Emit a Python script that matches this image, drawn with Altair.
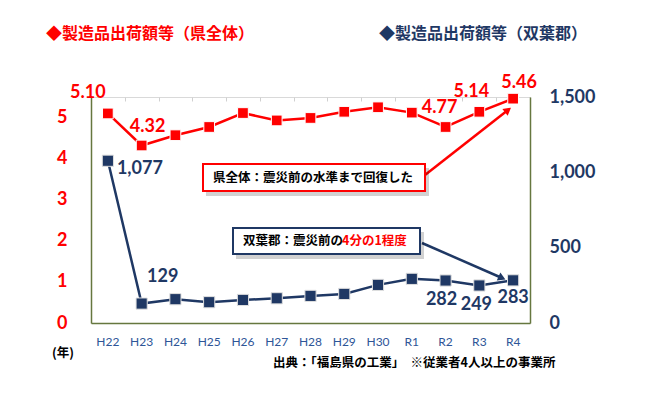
import altair as alt
import pandas as pd

# ---- data ----
years = ["H22", "H23", "H24", "H25", "H26", "H27", "H28", "H29", "H30", "R1", "R2", "R3", "R4"]
pref_values = [5.10, 4.32, 4.57, 4.77, 5.11, 4.93, 4.99, 5.14, 5.25, 5.12, 4.77, 5.14, 5.46]
futaba_values = [1077, 129, 158, 138, 153, 164, 180, 193, 253, 293, 282, 249, 283]
pref_labelled = ["H22", "H23", "R2", "R3", "R4"]
futaba_labelled = ["H22", "H23", "R2", "R3", "R4"]

title_pref = "◆製造品出荷額等（県全体）"
title_futaba = "◆製造品出荷額等（双葉郡）"
note_pref = "県全体：震災前の水準まで回復した"
note_futaba_a = "双葉郡：震災前の"
note_futaba_b = "4分の1程度"
year_unit = "(年)"
source_text = "出典：「福島県の工業」　※従業者4人以上の事業所"

# ---- styles ----
RED = "#ff0000"
NAVY = "#1f3864"
OLIVE = "#66773f"
XBLUE = "#2e5597"
NUMFONT = "Lato"
JPFONT = "Noto Sans CJK JP"

pref_offsets = {"H22": (-20, -20), "H23": (6, -18), "R2": (-6, -19), "R3": (-8, -20), "R4": (6, -16)}
futaba_offsets = {"H22": (32, 8), "H23": (21, -27), "R2": (-4, 19), "R3": (-3, 20), "R4": (0, 18)}

df = pd.DataFrame({"year": years, "pref": pref_values, "futaba": futaba_values})
one = pd.DataFrame({"k": [0]})

xscale = alt.Scale(type="band", paddingInner=0, paddingOuter=0)
x_bottom = alt.X("year:N", sort=years, scale=xscale,
                 axis=alt.Axis(title=None, orient="bottom", ticks=False, labelAngle=0,
                               labelColor=XBLUE, labelFont=NUMFONT, labelFontSize=12,
                               labelPadding=13, domainColor=OLIVE, domainWidth=1.5))
x_top = alt.X("year:N", sort=years, scale=xscale,
              axis=alt.Axis(title=None, orient="top", labels=False, domain=False,
                            ticks=True, tickBand="extent", tickSize=4, offset=-4,
                            tickColor="#d0d0d0"))

y_left = alt.Y("pref:Q", scale=alt.Scale(domain=[0, 5.5], nice=False, zero=True),
               axis=alt.Axis(title=None, orient="left", values=[0, 1, 2, 3, 4, 5], format="d",
                             ticks=False, grid=False, labelColor=RED, labelFont=NUMFONT,
                             labelFontSize=18, labelFontWeight="bold", labelPadding=24,
                             domainColor=OLIVE, domainWidth=1.5))
y_right = alt.Y("futaba:Q", scale=alt.Scale(domain=[0, 1500], nice=False, zero=True),
                axis=alt.Axis(title=None, orient="right", values=[0, 500, 1000, 1500], format=",.0f",
                              ticks=False, grid=False, labelColor=NAVY, labelFont=NUMFONT,
                              labelFontSize=18, labelFontWeight="bold", labelPadding=19,
                              domainColor=OLIVE, domainWidth=1.5))

base_l = alt.Chart(df)
pref_line = base_l.mark_line(color=RED, strokeWidth=2.5).encode(x=x_bottom, y=y_left)
pref_pts = base_l.mark_point(shape="square", filled=True, size=115, color=RED,
                             stroke="#ffffff", strokeWidth=1, opacity=1).encode(x=x_bottom, y=y_left)
pref_texts = []
for yr in pref_labelled:
    dx, dy = pref_offsets[yr]
    pref_texts.append(
        base_l.transform_filter(alt.datum.year == yr)
        .mark_text(dx=dx, dy=dy, color=RED, font=NUMFONT, fontSize=18, fontWeight="bold",
                   align="center", baseline="middle")
        .encode(x=x_bottom, y=y_left, text=alt.Text("pref:Q", format=".2f"))
    )
left_layer = alt.layer(pref_line, pref_pts, *pref_texts)

fut_line = base_l.mark_line(color=NAVY, strokeWidth=2.5).encode(x=x_top, y=y_right)
fut_pts = base_l.mark_point(shape="square", filled=True, size=125, color=NAVY,
                            stroke="#e0e0e0", strokeWidth=1, opacity=1).encode(x=x_top, y=y_right)
fut_texts = []
for yr in futaba_labelled:
    dx, dy = futaba_offsets[yr]
    fut_texts.append(
        base_l.transform_filter(alt.datum.year == yr)
        .mark_text(dx=dx, dy=dy, color=NAVY, font=NUMFONT, fontSize=18, fontWeight="bold",
                   align="center", baseline="middle")
        .encode(x=x_top, y=y_right, text=alt.Text("futaba:Q", format=",.0f"))
    )
right_layer = alt.layer(fut_line, fut_pts, *fut_texts)

# ---- annotations (pixel positions relative to plot area) ----
ann = alt.Chart(one)
def box(x1, x2, y1, y2, color):
    shadow = ann.mark_rect(fill="#000000", opacity=0.18).encode(
        x=alt.value(x1 + 3), x2=alt.value(x2 + 4), y=alt.value(y1 + 4), y2=alt.value(y2 + 5))
    rect = ann.mark_rect(fill="#ffffff", stroke=color, strokeWidth=2).encode(
        x=alt.value(x1), x2=alt.value(x2), y=alt.value(y1), y2=alt.value(y2))
    return [shadow, rect]

def arrow(x1, y1, x2, y2, hx, hy, angle, color):
    line = ann.mark_rule(color=color, strokeWidth=2.5).encode(
        x=alt.value(x1), y=alt.value(y1), x2=alt.value(x2), y2=alt.value(y2))
    head = ann.mark_point(shape="triangle-up", filled=True, size=75, color=color,
                          opacity=1, angle=angle).encode(x=alt.value(hx), y=alt.value(hy))
    return [line, head]

ann_layers = []
ann_layers += arrow(334, 78, 417, 13, 417, 13, 52, RED)
ann_layers += box(112, 334, 67, 94, RED)
ann_layers.append(ann.mark_text(text=note_pref, font=JPFONT, fontSize=12.5, fontWeight="bold",
                                color="#000000", align="left", baseline="middle")
                  .encode(x=alt.value(122), y=alt.value(81)))
ann_layers += arrow(331, 146, 411, 181, 411, 181, 114, NAVY)
ann_layers += box(142, 329, 131, 157, NAVY)
ann_layers.append(ann.mark_text(text=note_futaba_a, font=JPFONT, fontSize=12.5, fontWeight="bold",
                                color="#000000", align="left", baseline="middle")
                  .encode(x=alt.value(152), y=alt.value(144)))
ann_layers.append(ann.mark_text(text=note_futaba_b, font=JPFONT, fontSize=12.5, fontWeight="bold",
                                color=RED, align="left", baseline="middle")
                  .encode(x=alt.value(251), y=alt.value(144)))

# titles and notes outside the plot
ann_layers.append(ann.mark_text(text=title_pref, font=JPFONT, fontSize=16, fontWeight="bold",
                                color=RED, align="left", baseline="middle")
                  .encode(x=alt.value(-45), y=alt.value(-63)))
ann_layers.append(ann.mark_text(text=title_futaba, font=JPFONT, fontSize=16, fontWeight="bold",
                                color=NAVY, align="left", baseline="middle")
                  .encode(x=alt.value(288), y=alt.value(-63)))
ann_layers.append(ann.mark_text(text=year_unit, font=JPFONT, fontSize=12.5, fontWeight="bold",
                                color="#000000", align="center", baseline="middle")
                  .encode(x=alt.value(-28), y=alt.value(256)))
ann_layers.append(ann.mark_text(text=source_text, font=JPFONT, fontSize=12.5, fontWeight="bold",
                                color="#000000", align="left", baseline="middle")
                  .encode(x=alt.value(182), y=alt.value(266)))

chart = (
    alt.layer(left_layer, right_layer, *ann_layers)
    .resolve_scale(y="independent")
    .resolve_axis(x="independent", y="independent")
    .properties(width=439, height=226,
                padding={"left": 83, "top": 89, "right": 110, "bottom": 60},
                autosize=alt.AutoSizeParams(type="none"),
                background="#ffffff")
    .configure_view(stroke="#d9d9d9", strokeWidth=1)
)

chart.save("out.html", embed_options={"renderer": "svg", "actions": False})
